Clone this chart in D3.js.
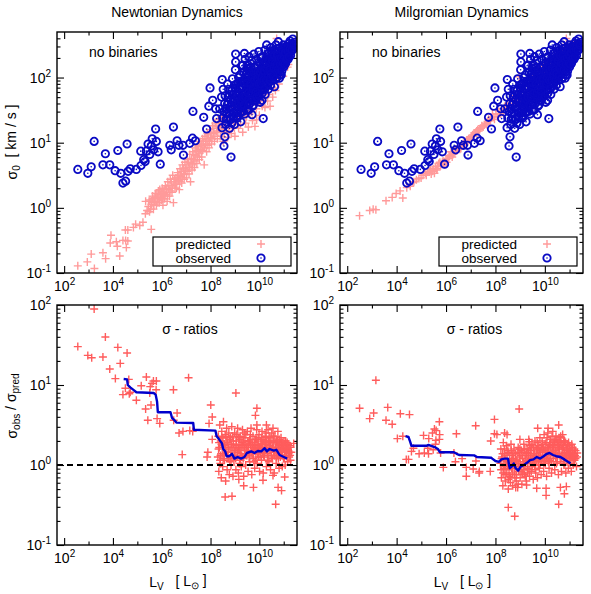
<!DOCTYPE html>
<html>
<head>
<meta charset="utf-8">
<script src="https://cdn.jsdelivr.net/npm/d3@7"></script>
<style>
body { margin: 0; background: #fff; }
text { font-family: "Liberation Sans", Arial, sans-serif; font-size: 14px; fill: #000; white-space: pre; }
</style>
</head>
<body>
<script>
// all points are [log10 L_V, log10 value]

// observed central dispersions (same in both upper panels)
var observedPts = [
 [2.56,0.59],[2.97,0.53],[3.11,0.63],[3.23,1.02],[3.59,0.66],[3.69,0.83],[3.87,0.66],[4.09,0.57],[4.20,0.88],[4.32,0.53],
 [4.41,0.38],[4.52,0.41],[4.58,0.98],[4.62,0.56],[4.71,0.60],[4.96,0.59],[5.14,0.87],[5.15,0.65],[5.26,0.74],[5.32,0.71],
 [5.37,0.87],[5.44,0.98],[5.51,0.82],[5.57,0.95],[5.61,1.06],[5.67,0.89],[5.75,1.21],[5.78,1.02],[5.85,0.86],[5.94,0.67],
 [6.33,0.96],[6.39,0.89],[6.48,1.24],[6.63,1.03],[6.70,0.96],[6.87,0.96],[6.89,0.81],[7.15,0.99],[7.26,1.07],[7.28,1.48],
 [7.38,1.03],[7.72,1.39],[7.84,1.21],[7.93,1.56],[7.98,1.84],[8.09,1.65],[8.21,1.52],[8.25,1.37],[8.47,1.23],[8.59,1.09],
 [8.55,0.95],[8.84,0.78],[8.48,1.97],
 [8.38,1.52],[8.45,1.70],[8.50,1.38],[8.52,1.82],[8.58,1.60],[8.62,1.28],[8.66,1.45],[8.70,1.90],[8.72,1.70],
 [8.78,1.22],[8.80,1.55],[8.84,1.36],[8.87,1.30],[8.88,1.80],[8.90,1.98],[8.93,1.62],[8.96,1.46],[8.98,1.28],[9.02,2.12],
 [9.03,2.36],[9.03,2.24],[9.05,1.75],[9.06,1.90],[9.10,1.38],[9.12,1.55],[9.15,2.00],[9.18,1.68],[9.20,1.84],[9.21,2.04],
 [9.24,1.32],[9.26,1.48],[9.28,2.18],[9.30,1.95],[9.32,2.19],[9.33,1.62],[9.36,1.76],[9.39,2.37],[9.40,1.44],[9.42,2.28],
 [9.44,1.88],[9.46,2.06],[9.48,1.58],[9.50,1.72],[9.52,2.20],[9.55,1.96],[9.57,1.50],[9.58,2.32],[9.60,1.84],[9.62,2.10],
 [9.64,1.66],[9.68,2.26],[9.70,1.43],[9.72,1.92],[9.74,2.02],[9.76,1.58],[9.78,2.36],[9.80,1.76],[9.82,2.16],[9.84,1.88],
 [9.86,1.65],[9.88,2.28],[9.90,2.06],[9.93,1.85],[9.95,1.72],[9.98,2.40],[10.00,1.95],[10.02,2.22],[10.04,1.62],[10.06,2.10],
 [10.08,1.80],[10.11,1.65],[10.12,2.32],[10.14,2.00],[10.16,1.37],[10.17,1.88],[10.19,2.18],[10.22,2.42],[10.24,1.74],[10.26,2.06],
 [10.28,2.28],[10.30,2.50],[10.32,1.92],[10.35,2.16],[10.37,1.82],[10.40,2.38],[10.42,2.02],[10.44,2.24],[10.46,1.88],[10.48,2.46],
 [10.50,2.12],[10.53,2.32],[10.55,1.96],[10.58,2.20],[10.60,2.42],[10.62,1.86],[10.64,2.06],[10.66,2.30],[10.68,2.50],[10.70,2.14],
 [10.72,2.00],[10.74,2.38],[10.76,2.24],[10.78,2.55],[10.82,1.99],[10.82,2.32],[10.84,2.12],[10.86,2.46],[10.88,2.20],[10.90,2.04],
 [10.92,2.38],[10.95,2.28],[10.96,2.26],[10.98,2.50],[11.00,2.16],[11.03,2.40],[11.05,2.30],[11.08,2.22],[11.10,2.48],[11.13,2.36],
 [11.15,2.36],[11.18,2.28],[11.20,2.52],[11.23,2.42],[11.26,2.56],[11.28,2.34],[11.32,2.48],[11.37,2.59],[11.40,2.44],[11.45,2.54],
 [8.55,1.48],[8.60,1.72],[8.64,1.36],[8.68,1.58],[8.74,1.82],[8.76,1.46],[8.82,1.66],[8.86,1.50],[8.92,1.74],[8.94,1.40],
 [9.00,1.56],[9.00,1.84],[9.08,1.66],[9.08,1.48],[9.12,1.78],[9.14,1.92],[9.18,1.52],[9.22,1.62],[9.24,1.94],[9.28,1.74],
 [9.30,1.54],[9.34,1.86],[9.36,2.08],[9.40,1.66],[9.42,1.96],[9.46,1.78],[9.48,2.14],[9.52,1.60],[9.54,1.86],[9.56,2.04],
 [9.60,1.72],[9.62,1.96],[9.66,1.82],[9.66,2.16],[9.70,1.68],[9.72,2.08],[9.76,1.86],[9.78,1.96],[9.82,1.70],[9.84,2.04],
 [9.88,1.80],[9.90,1.94],[9.92,2.18],[9.96,1.78],[9.98,2.06],[10.02,1.86],[10.04,2.00],[10.06,2.30],[10.08,1.94],[10.10,2.14],
 [10.14,1.82],[10.16,2.08],[10.18,2.24],[10.22,1.96],[10.24,2.14],[10.26,1.86],[10.30,2.04],[10.32,2.22],[10.34,2.36],[10.38,1.98],
 [10.40,2.12],[10.44,2.30],[10.46,2.04],[10.50,2.22],[10.52,2.40],[10.54,2.10],[10.58,2.30],[10.60,2.04],[10.62,2.18],[10.66,2.40],
 [10.68,2.12],[10.70,2.30],[10.74,2.08],[10.76,2.44],[10.80,2.18],[10.82,2.40],[10.86,2.28],[10.88,2.36],[10.92,2.18],[10.94,2.44],
 [10.98,2.32],[11.02,2.24],[11.04,2.46],[11.08,2.34],[11.12,2.42],[11.16,2.46],[11.20,2.36],[11.24,2.48],[11.30,2.40],[11.34,2.52],
 [8.62,1.52],[8.70,1.36],[8.72,1.62],[8.78,1.74],[8.84,1.56],[8.90,1.42],[8.96,1.66],[8.98,1.88],[9.04,1.60],[9.06,1.40],
 [9.10,1.72],[9.16,1.84],[9.16,1.60],[9.20,1.46],[9.26,1.66],[9.26,1.86],[9.32,1.70],[9.34,1.48],[9.38,1.92],[9.38,1.58],
 [9.44,1.70],[9.44,2.00],[9.50,1.92],[9.50,1.50],[9.54,1.76],[9.58,2.14],[9.60,1.60],[9.64,1.90],[9.68,1.76],[9.68,2.00],
 [9.72,1.56],[9.74,1.82],[9.80,1.96],[9.80,1.64],[9.84,2.14],[9.86,1.78],[9.90,1.70],[9.92,1.98],[9.96,2.10],[9.98,1.90],
 [10.00,1.72],[10.04,2.08],[10.06,1.90],[10.10,2.00],[10.12,1.76],[10.14,2.20],[10.18,1.96],[10.20,2.10],[10.22,1.82],[10.26,2.24],
 [10.28,1.96],[10.30,2.14],[10.34,2.04],[10.36,1.90],[10.38,2.26],[10.42,2.12],[10.44,1.96],[10.48,2.06],[10.50,2.32],[10.54,2.26],
 [10.56,2.02],[10.60,2.14],[10.62,2.34],[10.66,2.22],[10.68,1.98],[10.72,2.20],[10.74,2.34],[10.78,2.12],[10.80,2.28],[10.84,2.04],
 [10.86,2.20],[10.90,2.30],[10.92,2.10],[10.96,2.40],[10.98,2.22],[11.00,2.34],[11.04,2.20],[11.06,2.38],[11.10,2.28],[11.14,2.30],
 [11.18,2.40],[11.22,2.32],[11.26,2.44],[11.30,2.50],[11.34,2.42],[11.42,2.50]
];

// predicted dispersions, Newtonian dynamics
var predNewtonPts = [
 [2.56,-0.89],[2.95,-0.83],[3.11,-0.71],[3.24,-0.93],[3.59,-0.69],[3.70,-0.78],[3.89,-0.54],[3.92,-0.42],[4.14,-0.52],[4.18,-0.59],
 [4.28,-0.74],[4.41,-0.50],[4.55,-0.61],[4.52,-0.50],[4.61,-0.51],[4.51,-0.34],[4.61,-0.34],[4.84,-0.30],[4.93,-0.25],[5.10,-0.27],
 [5.23,-0.22],[5.33,-0.09],[5.40,-0.04],[5.57,-0.33],[5.34,0.10],
 [5.45,0.02],[5.50,-0.06],[5.52,0.12],[5.58,0.05],[5.62,0.18],[5.66,-0.02],[5.70,0.10],[5.74,0.22],[5.78,0.04],[5.82,0.15],
 [5.86,0.26],[5.90,0.08],[5.94,0.20],[5.98,0.12],[6.02,0.30],[6.05,0.04],[6.08,0.22],[6.12,0.14],[6.15,0.34],[6.18,0.24],
 [6.22,0.10],[6.25,0.40],[6.28,0.28],[6.32,0.18],[6.35,0.44],[6.38,0.34],[6.42,0.24],[6.45,0.50],[6.48,0.08],[6.50,0.38],
 [6.54,0.30],[6.58,0.46],[6.62,0.36],[6.65,0.54],[6.68,0.42],[6.72,0.28],[6.75,0.60],[6.78,0.48],[6.82,0.38],[6.85,0.66],
 [6.88,0.52],[6.92,0.44],[6.95,0.70],[6.98,0.58],[7.02,0.46],[7.05,0.74],[7.08,0.62],[7.12,0.52],[7.15,0.82],[7.18,0.40],
 [7.20,0.68],[7.24,0.58],[7.27,0.86],[7.30,0.74],[7.34,0.62],[7.37,0.92],[7.40,0.80],[7.44,0.68],[7.47,0.96],[7.50,0.86],
 [7.54,0.74],[7.57,1.02],[7.60,0.90],[7.64,0.78],[7.67,1.06],[7.70,0.96],[7.74,0.66],[7.77,1.10],[7.80,0.98],[7.84,0.86],
 [7.87,1.14],[7.90,1.04],[7.94,0.92],[7.97,1.20],[8.00,1.08],[8.04,0.98],[8.08,1.26],[8.12,1.14],[8.16,1.02],[8.20,1.30],
 [8.24,1.18],[8.28,1.06],[8.32,1.36],[8.36,1.24],[8.40,1.10],[8.44,1.40],[8.48,1.28],[8.52,1.02],[8.56,1.16],[8.60,1.36],
 [8.65,1.48],[8.70,1.08],[8.74,1.26],[8.80,1.42],[8.85,1.14],[8.90,1.56],[8.95,1.30],[9.00,1.10],[9.05,1.46],[9.10,1.62],
 [9.15,1.22],[9.20,1.38],[9.26,1.70],[9.32,1.16],[9.38,1.52],[9.44,1.30],[9.50,1.78],[9.55,1.24],[9.60,1.44],[9.66,1.62],
 [9.72,1.34],[9.78,1.86],[9.82,1.25],[9.89,1.35],[9.88,1.52],[9.94,1.70],[10.00,1.42],[10.06,1.96],[10.12,1.56],[10.18,1.80],
 [10.23,1.54],[10.28,2.06],[10.34,1.64],[10.40,1.90],[10.44,1.56],[10.50,2.14],[10.55,1.70],[10.60,1.98],[10.66,1.80],[10.71,2.60],
 [10.74,2.24],[10.80,1.90],[10.86,2.10],[10.92,2.34],[10.98,2.02],[11.04,2.22],[11.10,2.44],[11.16,2.16],[11.19,2.20],[11.26,2.33],
 [11.32,2.52],[11.38,2.40],[11.46,2.55],[11.50,2.46],
 [5.48,0.10],[5.55,-0.02],[5.60,0.08],[5.64,0.14],[5.68,0.04],[5.72,0.16],[5.76,0.10],[5.80,0.22],[5.84,0.08],[5.88,0.18],
 [5.92,0.28],[5.96,0.16],[6.00,0.22],[6.04,0.14],[6.10,0.28],[6.14,0.20],[6.20,0.30],[6.24,0.18],[6.30,0.34],[6.34,0.26],
 [6.40,0.40],[6.44,0.30],[6.52,0.44],[6.56,0.36],[6.60,0.30],[6.64,0.46],[6.70,0.50],[6.74,0.40],[6.80,0.56],[6.84,0.46],
 [6.90,0.60],[6.94,0.52],[7.00,0.66],[7.04,0.56],[7.10,0.70],[7.14,0.62],[7.22,0.76],[7.26,0.66],[7.32,0.82],[7.36,0.72],
 [7.42,0.88],[7.46,0.78],[7.52,0.94],[7.56,0.84],[7.62,0.98],[7.66,0.88],[7.72,1.02],[7.76,0.92],[7.82,1.06],[7.86,0.96],
 [7.92,1.12],[7.96,1.02],[8.02,1.16],[8.06,1.06],[8.14,1.22],[8.18,1.10],[8.26,1.26],[8.30,1.16],[8.38,1.32],[8.42,1.20],
 [8.50,1.40],[8.54,1.26],[8.62,1.22],[8.68,1.40],[8.76,1.18],[8.82,1.32],[8.92,1.44],[8.98,1.22],[9.08,1.34],[9.12,1.50],
 [9.22,1.28],[9.30,1.44],[9.40,1.62],[9.48,1.40],[9.58,1.56],[9.68,1.48],[9.76,1.66],[9.86,1.58],[9.96,1.80],[10.04,1.64],
 [10.14,1.88],[10.20,1.70],[10.30,1.84],[10.38,1.74],[10.48,1.96],[10.58,1.84],[10.68,2.06],[10.78,2.00],[10.90,2.18],[11.00,2.30],
 [11.12,2.30],[11.24,2.44],[11.36,2.50]
];

// predicted dispersions, Milgromian dynamics
var predMilgromPts = [
 [2.50,-0.12],[2.91,-0.04],[3.05,-0.02],[3.16,-0.03],[3.57,0.11],[3.82,0.16],[3.98,0.22],[4.14,0.26],[4.25,0.15],[4.41,0.31],
 [4.55,0.33],[4.66,0.39],[4.80,0.43],[4.99,0.46],[5.07,0.50],[5.16,0.53],[5.26,0.55],[5.37,0.58],[5.40,0.52],[5.48,0.60],
 [5.53,0.53],[5.57,0.63],[5.62,0.58],[5.64,0.60],[5.70,0.68],[5.78,0.65],[5.85,0.70],[5.91,0.68],[5.95,0.66],[6.00,0.74],
 [6.05,0.76],[6.10,0.76],[6.15,0.80],[6.20,0.86],[6.25,0.78],[6.32,0.84],[6.39,0.90],[6.45,0.88],[6.52,0.94],[6.60,0.91],
 [6.70,0.98],[6.80,1.02],[6.87,1.04],[6.92,1.06],[7.01,1.08],[7.08,1.12],[7.14,1.15],[7.20,1.16],[7.28,1.20],[7.32,1.18],
 [7.39,1.22],[7.45,1.26],[7.55,1.27],[7.60,1.30],[7.69,1.33],[7.75,1.34],[7.83,1.38],
 [4.70,0.40],[4.90,0.45],[5.20,0.50],[5.32,0.56],[5.44,0.56],[5.66,0.64],[5.75,0.70],[5.88,0.72],[6.02,0.70],[6.12,0.80],
 [6.28,0.82],[6.36,0.86],[6.48,0.92],[6.56,0.90],[6.64,0.96],[6.76,0.98],[6.84,1.04],[6.96,1.04],[7.04,1.10],[7.12,1.10],
 [7.24,1.18],[7.36,1.20],[7.50,1.24],[7.64,1.28],[7.72,1.36],[7.80,1.34],[7.88,1.44],
 [7.90,1.40],[7.96,1.36],[8.02,1.44],[8.08,1.40],[8.14,1.48],[8.20,1.44],[8.26,1.52],[8.32,1.46],[8.38,1.56],[8.44,1.50],
 [8.50,1.60],[8.56,1.54],[8.62,1.66],[8.70,1.58],[8.78,1.72],[8.86,1.62],[8.96,2.01],[8.92,1.78],[9.00,1.66],[9.08,1.86],
 [9.16,1.70],[9.24,1.92],[9.32,1.76],[9.40,1.98],[9.48,1.80],[9.56,2.04],[9.64,1.84],[9.72,2.10],[9.80,1.88],[9.88,2.16],
 [9.96,1.94],[10.00,2.05],[10.06,2.22],[10.14,2.00],[10.22,2.28],[10.30,2.06],[10.38,2.34],[10.42,2.05],[10.48,2.14],[10.56,2.40],
 [10.64,2.20],[10.72,2.46],[10.80,2.26],[10.87,2.60],[10.94,2.34],[11.02,2.50],[11.10,2.38],[11.18,2.56],[11.30,2.43],[11.38,2.50],
 [11.49,2.54]
];

// sigma_obs / sigma_pred, Newtonian
var ratioNewtonPts = [
 [3.23,1.95],[2.56,1.48],[3.69,1.60],[2.97,1.37],[3.13,1.34],[3.59,1.35],[4.20,1.47],[4.58,1.40],[4.30,1.27],[3.87,1.20],
 [4.10,1.08],[5.37,1.10],[7.10,1.09],[4.65,1.07],[4.51,0.96],[5.16,0.99],[5.60,1.02],[5.66,1.05],[5.78,1.05],[5.53,0.98],
 [4.41,0.88],[4.67,0.89],[4.71,0.91],[4.96,0.81],[5.51,0.90],[5.77,0.94],[6.48,0.94],[5.56,0.75],[5.34,0.70],[5.81,0.58],
 [5.43,0.56],[5.92,0.52],[6.49,0.56],[6.63,0.65],[8.01,0.75],[7.94,0.52],[8.07,0.60],[6.71,0.40],[6.87,0.42],[7.15,0.43],
 [7.27,0.42],[8.07,0.32],[6.84,0.13],[7.89,0.16],[7.86,0.10],[9.04,0.90],[9.90,0.71],[9.84,0.62],[9.90,0.50],[10.29,0.50],
 [10.56,0.46],[11.41,0.27],[8.60,-0.40],[8.88,-0.39],[10.67,-0.49],[10.77,-0.28],[10.91,-0.32],[9.76,-0.28],[9.36,-0.26],[9.16,-0.18],
 [10.15,-0.19],[11.04,-0.15],[10.56,-0.13],
 [8.30,0.10],[8.32,0.36],[8.34,-0.08],[8.36,0.22],[8.38,0.50],[8.40,0.02],[8.42,0.30],[8.44,-0.16],[8.46,0.42],[8.48,0.14],
 [8.50,-0.02],[8.53,0.54],[8.55,0.24],[8.57,0.06],[8.60,0.38],[8.62,-0.20],[8.64,0.16],[8.66,0.46],[8.68,-0.06],[8.70,0.28],
 [8.73,0.08],[8.75,0.40],[8.77,-0.12],[8.80,0.20],[8.82,0.34],[8.84,0.00],[8.87,0.48],[8.89,0.12],[8.92,-0.14],[8.94,0.26],
 [8.96,0.06],[8.99,0.40],[9.01,0.18],[9.04,-0.06],[9.06,0.30],[9.09,0.10],[9.11,0.46],[9.14,-0.10],[9.16,0.22],[9.19,0.02],
 [9.21,0.36],[9.24,0.14],[9.26,-0.02],[9.29,0.28],[9.31,0.44],[9.34,0.08],[9.36,-0.14],[9.39,0.20],[9.41,0.34],[9.44,0.00],
 [9.46,0.26],[9.49,0.12],[9.51,0.42],[9.54,-0.08],[9.56,0.18],[9.59,0.30],[9.61,0.04],[9.64,0.24],[9.66,0.46],[9.69,-0.12],
 [9.71,0.14],[9.74,0.36],[9.76,0.08],[9.79,0.22],[9.81,-0.04],[9.84,0.32],[9.86,0.16],[9.89,0.44],[9.91,0.02],[9.94,0.26],
 [9.96,0.10],[9.99,0.38],[10.01,-0.08],[10.04,0.20],[10.06,0.30],[10.09,0.06],[10.11,0.42],[10.14,0.16],[10.16,-0.10],[10.19,0.26],
 [10.21,0.10],[10.24,0.36],[10.26,0.20],[10.29,-0.02],[10.31,0.30],[10.34,0.14],[10.36,0.44],[10.39,0.04],[10.41,0.24],[10.44,0.34],
 [10.46,-0.06],[10.49,0.18],[10.51,0.40],[10.54,0.08],[10.56,0.28],[10.59,0.16],[10.61,-0.10],[10.64,0.36],[10.66,0.22],[10.69,0.02],
 [10.71,0.30],[10.74,0.12],[10.76,0.42],[10.79,0.20],[10.81,-0.04],[10.84,0.26],[10.86,0.10],[10.89,0.34],[10.91,0.16],[10.94,-0.02],
 [10.96,0.24],[10.99,0.08],[11.01,0.30],[11.04,0.18],[11.06,0.00],[11.09,0.22],[11.11,0.12],[11.14,0.28],[11.16,0.04],[11.19,0.18],
 [11.22,0.10],[11.25,0.24],[11.28,0.06],[11.31,0.16],
 [8.35,0.28],[8.41,0.12],[8.47,0.34],[8.52,0.08],[8.58,0.26],[8.63,0.36],[8.69,0.12],[8.74,0.22],[8.79,0.04],[8.85,0.26],
 [8.91,0.36],[8.97,0.18],[9.03,0.08],[9.08,0.38],[9.13,0.20],[9.18,0.32],[9.23,0.06],[9.28,0.12],[9.33,0.24],[9.38,0.40],
 [9.43,0.14],[9.48,0.22],[9.53,0.30],[9.58,0.10],[9.63,0.38],[9.68,0.16],[9.73,0.26],[9.78,0.04],[9.83,0.20],[9.88,0.32],
 [9.93,0.14],[9.98,0.24],[10.03,0.10],[10.08,0.34],[10.13,0.26],[10.18,0.12],[10.23,0.20],[10.28,0.40],[10.33,0.06],[10.38,0.30],
 [10.43,0.18],[10.48,0.28],[10.53,0.20],[10.58,0.36],[10.63,0.12],[10.68,0.28],[10.73,0.22],[10.78,0.08],[10.83,0.32],[10.88,0.18],
 [10.93,0.28],[10.98,0.20],[11.03,0.10],[11.08,0.30],[11.13,0.20],[11.18,0.26],[11.23,0.16],[11.28,0.22],
 [8.33,0.20],[8.39,0.06],[8.45,0.26],[8.51,0.34],[8.56,0.14],[8.61,0.22],[8.67,0.30],[8.72,0.16],[8.78,0.32],[8.83,0.10],
 [8.88,0.22],[8.93,0.30],[8.98,0.12],[9.05,0.24],[9.10,0.16],[9.15,0.34],[9.20,0.18],[9.25,0.26],[9.30,0.10],[9.35,0.30],
 [9.40,0.22],[9.45,0.38],[9.50,0.18],[9.55,0.26],[9.60,0.14],[9.65,0.32],[9.70,0.22],[9.75,0.18],[9.80,0.28],[9.85,0.06],
 [9.90,0.20],[9.95,0.34],[10.00,0.22],[10.05,0.14],[10.10,0.26],[10.15,0.32],[10.20,0.16],[10.25,0.28],[10.30,0.22],[10.35,0.12],
 [10.40,0.34],[10.45,0.24],[10.50,0.10],[10.55,0.22],[10.60,0.30],[10.65,0.18],[10.70,0.10],[10.75,0.30],[10.80,0.24],[10.85,0.16],
 [10.90,0.26],[10.95,0.12],[11.00,0.20],[11.05,0.26],[11.10,0.16],[11.15,0.22],[11.20,0.14],[11.26,0.12]
];

// sigma_obs / sigma_pred, Milgromian
var ratioMilgromPts = [
 [3.16,1.06],[2.50,0.71],[2.91,0.58],[3.07,0.65],[3.57,0.56],[3.64,0.72],[3.82,0.51],[4.15,0.64],[4.52,0.63],[4.03,0.33],
 [4.25,0.36],[4.39,0.07],[4.48,0.07],[4.60,0.17],[4.68,0.21],[4.91,0.14],[5.09,0.37],[5.12,0.15],[5.29,0.14],[5.30,0.33],
 [5.26,0.21],[5.45,0.40],[5.53,0.45],[5.60,0.43],[5.59,0.31],[5.73,0.54],[5.74,0.38],[5.73,0.32],[5.57,0.26],[5.48,0.19],
 [5.78,0.15],[5.89,-0.03],[6.32,0.15],[6.42,0.39],[6.38,0.04],[6.65,0.08],[6.82,-0.03],[6.82,-0.14],[7.10,-0.05],[7.20,0.49],
 [7.21,0.05],[7.34,-0.10],[7.81,0.30],[8.96,0.70],[7.96,0.57],[7.96,0.39],[8.06,0.38],[8.37,0.40],[8.47,0.38],[9.71,0.46],
 [10.13,0.46],[10.56,0.50],[8.99,0.32],[9.37,0.29],[11.31,0.15],[7.35,-0.08],[7.79,-0.08],[8.52,-0.53],[8.78,-0.64],[10.56,-0.49],
 [9.67,-0.29],[10.05,-0.29],[10.05,-0.38],[10.63,-0.28],[10.79,-0.36],[10.87,-0.27],[8.82,-0.28],[8.92,-0.24],[9.26,-0.25],
 [8.20,0.02],[8.22,0.20],[8.24,-0.16],[8.27,0.10],[8.30,-0.26],[8.32,0.28],[8.34,-0.04],[8.37,0.14],[8.40,-0.20],[8.42,0.06],
 [8.44,0.24],[8.46,-0.10],[8.49,0.00],[8.52,-0.30],[8.54,0.16],[8.56,-0.14],[8.58,0.08],[8.61,-0.22],[8.63,0.26],[8.65,-0.04],
 [8.68,0.12],[8.70,-0.26],[8.72,0.02],[8.75,0.20],[8.77,-0.12],[8.80,-0.02],[8.82,0.14],[8.84,-0.20],[8.87,0.06],[8.90,-0.28],
 [8.92,0.22],[8.94,-0.08],[8.97,0.10],[9.00,-0.16],[9.02,0.00],[9.05,0.18],[9.07,-0.24],[9.10,0.08],[9.12,-0.06],[9.15,0.26],
 [9.18,-0.12],[9.20,0.12],[9.22,0.02],[9.25,-0.20],[9.28,0.20],[9.30,-0.04],[9.33,0.10],[9.35,0.32],[9.38,-0.14],[9.40,0.04],
 [9.43,0.18],[9.45,-0.08],[9.48,0.26],[9.50,0.08],[9.53,-0.18],[9.55,0.14],[9.58,0.00],[9.60,0.30],[9.63,-0.10],[9.65,0.20],
 [9.68,0.06],[9.70,-0.16],[9.73,0.24],[9.75,0.12],[9.78,-0.04],[9.80,0.34],[9.82,0.16],[9.85,-0.12],[9.87,0.04],[9.90,0.26],
 [9.92,0.10],[9.95,-0.08],[9.97,0.38],[10.00,0.18],[10.02,0.02],[10.05,0.28],[10.07,-0.14],[10.10,0.12],[10.12,0.40],[10.15,0.22],
 [10.17,-0.04],[10.20,0.06],[10.22,0.32],[10.25,0.16],[10.27,-0.10],[10.30,0.24],[10.32,0.42],[10.35,0.08],[10.37,0.30],[10.40,-0.06],
 [10.42,0.18],[10.45,0.36],[10.47,0.02],[10.50,0.26],[10.52,0.12],[10.55,-0.12],[10.57,0.34],[10.60,0.20],[10.62,0.04],[10.65,0.28],
 [10.67,-0.08],[10.70,0.14],[10.72,0.38],[10.75,0.22],[10.77,0.00],[10.80,0.30],[10.82,0.10],[10.85,-0.10],[10.87,0.20],[10.90,0.06],
 [10.92,0.26],[10.95,-0.04],[10.97,0.14],[11.00,0.24],[11.02,0.02],[11.05,0.18],[11.07,-0.08],[11.10,0.10],[11.12,0.22],[11.15,0.00],
 [11.18,0.14],[11.20,0.06],[11.24,0.18],[11.28,-0.02],[11.30,0.10],
 [8.25,0.08],[8.31,-0.10],[8.36,0.20],[8.41,-0.02],[8.47,0.12],[8.53,-0.18],[8.59,0.04],[8.64,0.18],[8.69,-0.10],[8.74,0.08],
 [8.79,-0.16],[8.85,0.04],[8.91,0.16],[8.96,-0.02],[9.03,0.12],[9.09,-0.10],[9.14,0.04],[9.19,0.20],[9.24,0.06],[9.29,-0.10],
 [9.34,0.16],[9.39,0.24],[9.44,0.08],[9.49,-0.02],[9.54,0.22],[9.59,0.14],[9.64,0.04],[9.69,0.28],[9.74,0.00],[9.79,0.18],
 [9.84,0.10],[9.89,0.30],[9.94,0.20],[9.99,0.06],[10.04,0.16],[10.09,0.34],[10.14,0.04],[10.19,0.26],[10.24,0.12],[10.29,0.36],
 [10.34,0.18],[10.39,0.28],[10.44,0.10],[10.49,0.32],[10.54,0.20],[10.59,0.14],[10.64,0.36],[10.69,0.24],[10.74,0.08],[10.79,0.16],
 [10.84,0.28],[10.89,0.14],[10.94,0.20],[10.99,0.08],[11.04,0.12],[11.09,0.26],[11.14,0.08],[11.19,0.20],[11.24,0.08],
 [8.23,-0.06],[8.29,0.14],[8.35,0.00],[8.39,-0.12],[8.45,0.04],[8.50,0.18],[8.55,-0.06],[8.60,-0.16],[8.66,0.06],[8.71,0.14],
 [8.76,-0.04],[8.81,0.06],[8.86,-0.12],[8.93,0.02],[8.99,0.20],[9.04,-0.08],[9.11,0.16],[9.16,-0.02],[9.21,-0.14],[9.26,0.14],
 [9.31,0.04],[9.36,-0.06],[9.41,0.12],[9.46,0.22],[9.51,0.02],[9.56,0.06],[9.61,-0.06],[9.66,0.12],[9.71,0.20],[9.76,0.08],
 [9.81,0.00],[9.86,0.22],[9.91,0.16],[9.96,0.02],[10.01,0.26],[10.06,0.08],[10.11,0.20],[10.16,0.12],[10.21,0.24],[10.26,0.04],
 [10.31,0.16],[10.36,0.22],[10.41,0.30],[10.46,0.14],[10.51,0.04],[10.56,0.24],[10.61,0.30],[10.66,0.10],[10.71,0.22],[10.76,0.30],
 [10.81,0.02],[10.86,0.12],[10.91,0.18],[10.96,0.28],[11.01,0.14],[11.06,0.06],[11.11,0.16],[11.16,0.10],[11.22,0.12]
];

// running medians (blue lines)
var medianNewton = [
 [4.44,1.075],[4.58,1.07],[4.61,1.00],[4.71,0.97],[4.88,0.93],[4.96,0.91],[5.67,0.90],[5.75,0.88],[5.81,0.79],[5.84,0.66],
 [6.36,0.66],[6.42,0.59],[6.52,0.56],[6.60,0.53],[7.29,0.525],[7.32,0.44],[8.20,0.43],[8.25,0.36],[8.33,0.33],[8.47,0.27],
 [8.52,0.20],[8.60,0.17],[8.66,0.11],[8.77,0.11],[8.88,0.14],[8.98,0.08],[9.11,0.10],[9.25,0.08],[9.39,0.10],[9.49,0.15],
 [9.67,0.17],[9.80,0.15],[9.94,0.175],[10.08,0.17],[10.22,0.21],[10.31,0.17],[10.42,0.20],[10.59,0.18],[10.70,0.19],[10.83,0.125],
 [11.00,0.10],[11.14,0.08]
];
var medianMilgrom = [
 [4.36,0.36],[4.48,0.35],[4.55,0.29],[4.60,0.24],[5.20,0.24],[5.29,0.25],[5.40,0.24],[5.57,0.22],[5.67,0.20],[5.75,0.16],
 [6.32,0.16],[6.43,0.14],[6.53,0.125],[7.14,0.12],[7.25,0.10],[7.83,0.09],[7.87,0.08],[8.00,0.05],[8.14,0.04],[8.24,0.07],
 [8.37,0.08],[8.51,0.08],[8.55,0.00],[8.58,-0.04],[8.69,-0.01],[8.74,0.02],[8.82,-0.04],[8.92,-0.07],[9.02,-0.02],[9.15,0.00],
 [9.29,0.03],[9.40,0.06],[9.54,0.07],[9.67,0.10],[9.81,0.08],[9.95,0.11],[10.08,0.14],[10.19,0.15],[10.33,0.125],[10.46,0.11],
 [10.63,0.10],[10.79,0.07],[10.93,0.04],[11.04,0.02]
];

// axes
var xDomain = [51, 3.5e11];
var xLabelExp = [2, 4, 6, 8, 10];
var xOddExp = [3, 5, 7, 9, 11];
var sigmaDomain = [0.1, 500];
var ratioDomain = [0.1, 100];
var yDecadeExp = [-1, 0, 1, 2];
var minorMult = [2, 3, 4, 5, 6, 7, 8, 9];
var titles = ["Newtonian Dynamics", "Milgromian Dynamics"];

var W = 591, H = 594;
var pink = "#ff9a9a", pinkDark = "#ff5c5c", blue = "#0a0ac4";

var svg = d3.select("body").append("svg")
	.attr("width", W)
	.attr("height", H);

var boxes = [
	{x0: 57, x1: 297, y0: 32, y1: 273},
	{x0: 340, x1: 583, y0: 32, y1: 273},
	{x0: 57, x1: 297, y0: 305, y1: 545},
	{x0: 340, x1: 583, y0: 305, y1: 545}
];

function pow10(v){ return Math.pow(10, v); }

function supLabels(sel){
	sel.selectAll(".tick text").each(function(d){
		var e = Math.round(Math.log10(d));
		var t = d3.select(this).text(null);
		t.append("tspan").text("10");
		t.append("tspan").attr("dy", "-0.55em").style("font-size", "10px").text(e);
	});
};

function setPanel(box, yDomain, id){
	var x = d3.scaleLog().domain(xDomain).range([box.x0, box.x1]);
	var y = d3.scaleLog().domain(yDomain).range([box.y1, box.y0]);

	var yMajor = yDecadeExp.map(pow10);
	var yMinor = [];
	yDecadeExp.forEach(function(e){
		minorMult.forEach(function(m){
			var v = m * pow10(e);
			if (v < yDomain[1]) yMinor.push(v);
		});
	});
	var xMajor = xLabelExp.map(pow10),
		xMinor = xOddExp.map(pow10);

	var axes = svg.append("g").attr("color", "#000");

	//bottom axis with labels, top axis mirrored
	var bot = axes.append("g").attr("transform", "translate(0," + box.y1 + ")")
		.call(d3.axisBottom(x).tickValues(xMajor).tickSize(-7).tickSizeOuter(0).tickPadding(8));
	supLabels(bot);
	axes.append("g").attr("transform", "translate(0," + box.y1 + ")")
		.call(d3.axisBottom(x).tickValues(xMinor).tickSize(-3.5).tickSizeOuter(0).tickFormat(""));
	axes.append("g").attr("transform", "translate(0," + box.y0 + ")")
		.call(d3.axisTop(x).tickValues(xMajor).tickSize(-7).tickSizeOuter(0).tickFormat(""));
	axes.append("g").attr("transform", "translate(0," + box.y0 + ")")
		.call(d3.axisTop(x).tickValues(xMinor).tickSize(-3.5).tickSizeOuter(0).tickFormat(""));

	//left axis with labels, right axis mirrored
	var left = axes.append("g").attr("transform", "translate(" + box.x0 + ",0)")
		.call(d3.axisLeft(y).tickValues(yMajor).tickSize(-7).tickSizeOuter(0).tickPadding(6));
	supLabels(left);
	axes.append("g").attr("transform", "translate(" + box.x0 + ",0)")
		.call(d3.axisLeft(y).tickValues(yMinor).tickSize(-3.5).tickSizeOuter(0).tickFormat(""));
	axes.append("g").attr("transform", "translate(" + box.x1 + ",0)")
		.call(d3.axisRight(y).tickValues(yMajor).tickSize(-7).tickSizeOuter(0).tickFormat(""));
	axes.append("g").attr("transform", "translate(" + box.x1 + ",0)")
		.call(d3.axisRight(y).tickValues(yMinor).tickSize(-3.5).tickSizeOuter(0).tickFormat(""));

	axes.selectAll(".domain").remove();
	axes.selectAll(".tick line").attr("stroke-width", 1.1);
	axes.selectAll(".tick text").attr("fill", "#000");

	svg.append("clipPath").attr("id", id)
		.append("rect")
		.attr("x", box.x0).attr("y", box.y0)
		.attr("width", box.x1 - box.x0).attr("height", box.y1 - box.y0);

	var plot = svg.append("g").attr("clip-path", "url(#" + id + ")");

	return {x: x, y: y, plot: plot, box: box};
};

function drawFrame(p){
	svg.append("rect")
		.attr("x", p.box.x0).attr("y", p.box.y0)
		.attr("width", p.box.x1 - p.box.x0).attr("height", p.box.y1 - p.box.y0)
		.attr("fill", "none").attr("stroke", "#000").attr("stroke-width", 1.4);
};

function plusMarks(g, pts, p, color){
	g.selectAll(null)
		.data(pts)
		.enter()
		.append("path")
		.attr("transform", function(d){ return "translate(" + p.x(pow10(d[0])) + "," + p.y(pow10(d[1])) + ")"; })
		.attr("d", "M-4,0H4M0,-4V4")
		.attr("stroke", color)
		.attr("stroke-width", 1.4)
		.attr("fill", "none");
};

function circleMarks(g, pts, p){
	var m = g.selectAll(null)
		.data(pts)
		.enter()
		.append("g")
		.attr("transform", function(d){ return "translate(" + p.x(pow10(d[0])) + "," + p.y(pow10(d[1])) + ")"; });
	m.append("circle").attr("r", 3.7).attr("fill", "none").attr("stroke", blue).attr("stroke-width", 1.8);
	m.append("circle").attr("r", 0.8).attr("fill", blue);
};

function setSigmaPanel(box, pred, title, id){
	var p = setPanel(box, sigmaDomain, id);

	plusMarks(p.plot, pred, p, pink);
	circleMarks(p.plot, observedPts, p);

	svg.append("text")
		.attr("x", (box.x0 + box.x1) / 2).attr("y", 17)
		.attr("text-anchor", "middle")
		.text(title);

	svg.append("text")
		.attr("x", box.x0 + 32).attr("y", 57)
		.text("no binaries");

	//legend
	var lx = box.x1 - 144, ly = 237;
	var leg = svg.append("g");
	leg.append("rect")
		.attr("x", lx).attr("y", ly).attr("width", 138).attr("height", 29)
		.attr("fill", "#fff").attr("stroke", "#000").attr("stroke-width", 1.2);
	leg.append("text").attr("x", lx + 78).attr("y", ly + 11.5).attr("text-anchor", "end")
		.style("font-size", "13.5px").text("predicted");
	leg.append("text").attr("x", lx + 78).attr("y", ly + 25.5).attr("text-anchor", "end")
		.style("font-size", "13.5px").text("observed");
	leg.append("path")
		.attr("transform", "translate(" + (lx + 108) + "," + (ly + 7) + ")")
		.attr("d", "M-4,0H4M0,-4V4")
		.attr("stroke", pink).attr("stroke-width", 1.4);
	var c = leg.append("g").attr("transform", "translate(" + (lx + 108) + "," + (ly + 21) + ")");
	c.append("circle").attr("r", 3.7).attr("fill", "none").attr("stroke", blue).attr("stroke-width", 1.8);
	c.append("circle").attr("r", 0.8).attr("fill", blue);

	drawFrame(p);
};

function setRatioPanel(box, ratio, median, id){
	var p = setPanel(box, ratioDomain, id);

	plusMarks(p.plot, ratio, p, pinkDark);

	var line = d3.line()
		.x(function(d){ return p.x(pow10(d[0])); })
		.y(function(d){ return p.y(pow10(d[1])); });

	p.plot.append("path")
		.datum(median)
		.attr("d", line)
		.attr("fill", "none")
		.attr("stroke", "#0000cc")
		.attr("stroke-width", 2.4)
		.attr("stroke-linejoin", "round");

	//unity ratio
	p.plot.append("line")
		.attr("x1", box.x0).attr("x2", box.x1)
		.attr("y1", p.y(1)).attr("y2", p.y(1))
		.attr("stroke", "#000").attr("stroke-width", 2)
		.attr("stroke-dasharray", "6,4");

	svg.append("text")
		.attr("x", (box.x0 + box.x1) / 2 + 13).attr("y", 334)
		.attr("text-anchor", "middle")
		.text("\u03c3 - ratios");

	//x title
	var t = svg.append("text")
		.attr("x", (box.x0 + box.x1) / 2 + 1).attr("y", 587)
		.attr("text-anchor", "middle");
	t.append("tspan").text("L");
	t.append("tspan").attr("dy", "0.3em").style("font-size", "10px").text("V");
	t.append("tspan").attr("dy", "-0.3em").text("   [ L");
	t.append("tspan").attr("dy", "0.3em").style("font-size", "10px").text("\u2299");
	t.append("tspan").attr("dy", "-0.3em").text(" ]");

	drawFrame(p);
};

setSigmaPanel(boxes[0], predNewtonPts, titles[0], "clipA");
setSigmaPanel(boxes[1], predMilgromPts, titles[1], "clipB");
setRatioPanel(boxes[2], ratioNewtonPts, medianNewton, "clipC");
setRatioPanel(boxes[3], ratioMilgromPts, medianMilgrom, "clipD");

//y titles
var ty = svg.append("text")
	.attr("transform", "translate(17,142) rotate(-90)")
	.attr("text-anchor", "middle");
ty.append("tspan").text("\u03c3");
ty.append("tspan").attr("dy", "0.3em").style("font-size", "10px").text("0");
ty.append("tspan").attr("dy", "-0.3em").text("  [ km / s ]");

var tr = svg.append("text")
	.attr("transform", "translate(17,406) rotate(-90)")
	.attr("text-anchor", "middle");
tr.append("tspan").text("\u03c3");
tr.append("tspan").attr("dy", "0.3em").style("font-size", "10px").text("obs");
tr.append("tspan").attr("dy", "-0.3em").text(" / \u03c3");
tr.append("tspan").attr("dy", "0.3em").style("font-size", "10px").text("pred");
</script>
</body>
</html>
